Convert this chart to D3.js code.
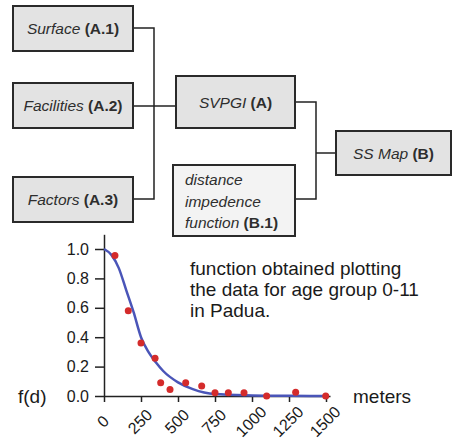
<!DOCTYPE html>
<html>
<head>
<meta charset="utf-8">
<script src="https://cdn.jsdelivr.net/npm/d3@7"></script>
<style>
  body { margin: 0; background: #fff; }
  svg { display: block; font-family: "Liberation Sans", Arial, sans-serif; }
</style>
</head>
<body>
<div id="chart"></div>
<script>
// Flow chart labels: italic name + bold code
const boxNames = ['Surface', 'Facilities', 'Factors', 'SVPGI', 'SS Map'];
const boxCodes = ['(A.1)', '(A.2)', '(A.3)', '(A)', '(B)'];
const distLines = ['distance', 'impedence', 'function'];
const distCode = '(B.1)';

// Measured points (distance in meters, f(d))
const distM = [74, 164, 250, 345, 383, 446, 552, 660, 750, 840, 946, 1099, 1295, 1498];
const fd = [0.955, 0.58, 0.36, 0.256, 0.09, 0.045, 0.09, 0.068, 0.022, 0.022, 0.022, 0.0, 0.025, 0.0];

// Fitted curve
const fitX = [0, 50, 100, 150, 200, 250, 300, 350, 400, 500, 600, 750, 1000, 1250, 1500];
const fitY = [1.0, 0.96, 0.87, 0.72, 0.57, 0.40, 0.30, 0.23, 0.17, 0.093, 0.047, 0.013, 0.004, 0.001, 0];

const xTicks = [0, 250, 500, 750, 1000, 1250, 1500];
const yTicks = [0, 0.2, 0.4, 0.6, 0.8, 1.0];
const note = ['function obtained plotting', 'the data for age group 0-11', 'in Padua.'];

const svg = d3.select('#chart').append('svg')
    .attr('width', 452)
    .attr('height', 440);

// ---- flow chart ----
const layout = [
    { x: 13, y: 6, w: 120, h: 45 },
    { x: 13, y: 83, w: 120, h: 45 },
    { x: 13, y: 177, w: 120, h: 45 },
    { x: 176, y: 76, w: 119, h: 52 },
    { x: 336, y: 131, w: 115, h: 44 }
];

const links = [
    [[133, 28], [154, 28], [154, 199], [133, 199]],
    [[133, 106], [176, 106]],
    [[295, 102], [316, 102], [316, 199], [296, 199]],
    [[316, 153], [336, 153]]
];

const line = d3.line();
svg.selectAll('path.link')
    .data(links)
    .enter().append('path')
    .attr('class', 'link')
    .attr('d', line)
    .attr('fill', 'none')
    .attr('stroke', '#222')
    .attr('stroke-width', 1.5);

const box = svg.selectAll('g.box')
    .data(layout)
    .enter().append('g')
    .attr('class', 'box');

box.append('rect')
    .attr('x', d => d.x)
    .attr('y', d => d.y)
    .attr('width', d => d.w)
    .attr('height', d => d.h)
    .attr('fill', '#e3e3e3')
    .attr('stroke', '#2a2a2a')
    .attr('stroke-width', 2);

const label = box.append('text')
    .attr('x', d => d.x + d.w / 2)
    .attr('y', d => d.y + d.h / 2 + 5.5)
    .attr('text-anchor', 'middle')
    .attr('font-size', 15.5)
    .attr('fill', '#2e2e2e');
label.append('tspan')
    .attr('font-style', 'italic')
    .text((d, i) => boxNames[i] + ' ');
label.append('tspan')
    .attr('font-weight', 'bold')
    .text((d, i) => boxCodes[i]);

// distance impedence box
svg.append('rect')
    .attr('x', 173).attr('y', 165)
    .attr('width', 122).attr('height', 71)
    .attr('fill', '#f3f3f3')
    .attr('stroke', '#2a2a2a')
    .attr('stroke-width', 2);

const dt = svg.append('text')
    .attr('font-size', 15.5)
    .attr('fill', '#2e2e2e');
distLines.forEach((t, i) => {
    dt.append('tspan')
        .attr('x', 185)
        .attr('y', 185 + i * 21.7)
        .attr('font-style', 'italic')
        .text(t);
    if (i === distLines.length - 1) {
        dt.append('tspan').attr('font-weight', 'bold').text(' ' + distCode);
    }
});

// ---- plot ----
const x = d3.scaleLinear().domain([0, 1527]).range([104, 330]);
const y = d3.scaleLinear().domain([0, 1.1]).range([396, 234.3]);

const xAxis = svg.append('g')
    .attr('transform', 'translate(0,396)')
    .call(d3.axisBottom(x).tickValues(xTicks).tickFormat(d3.format('d'))
        .tickSize(6).tickSizeOuter(0));
xAxis.selectAll('text')
    .attr('y', 25.5)
    .attr('x', -1.5)
    .attr('dy', '0.35em')
    .attr('text-anchor', 'middle')
    .attr('transform', 'rotate(-45,-1.5,25.5)');

const yAxis = svg.append('g')
    .attr('transform', 'translate(104,0)')
    .call(d3.axisLeft(y).tickValues(yTicks).tickFormat(d3.format('.1f'))
        .tickSize(9).tickPadding(6).tickSizeOuter(0));

svg.selectAll('.tick text')
    .attr('font-size', 16)
    .attr('font-family', '"Liberation Sans", Arial, sans-serif')
    .attr('fill', '#1a1a1a');
svg.selectAll('.domain, .tick line')
    .attr('stroke', '#222')
    .attr('stroke-width', 1.5);

// fitted curve
svg.append('path')
    .datum(fitX.map((d, i) => [d, fitY[i]]))
    .attr('d', d3.line().x(d => x(d[0])).y(d => y(d[1])).curve(d3.curveMonotoneX))
    .attr('fill', 'none')
    .attr('stroke', '#4a55b8')
    .attr('stroke-width', 2.5);

// measured points
svg.selectAll('circle.pt')
    .data(distM)
    .enter().append('circle')
    .attr('class', 'pt')
    .attr('cx', d => x(d))
    .attr('cy', (d, i) => y(fd[i]))
    .attr('r', 3.5)
    .attr('fill', '#d42b2b');

// axis labels
svg.append('text')
    .attr('x', 18).attr('y', 403)
    .attr('font-size', 19)
    .attr('fill', '#1a1a1a')
    .text('f(d)');

svg.append('text')
    .attr('x', 353).attr('y', 403)
    .attr('font-size', 19)
    .attr('fill', '#1a1a1a')
    .text('meters');

svg.append('text')
    .attr('font-size', 19)
    .attr('fill', '#1a1a1a')
    .selectAll('tspan')
    .data(note)
    .enter().append('tspan')
    .attr('x', 190)
    .attr('y', (d, i) => 275 + i * 21)
    .text(d => d);
</script>
</body>
</html>
